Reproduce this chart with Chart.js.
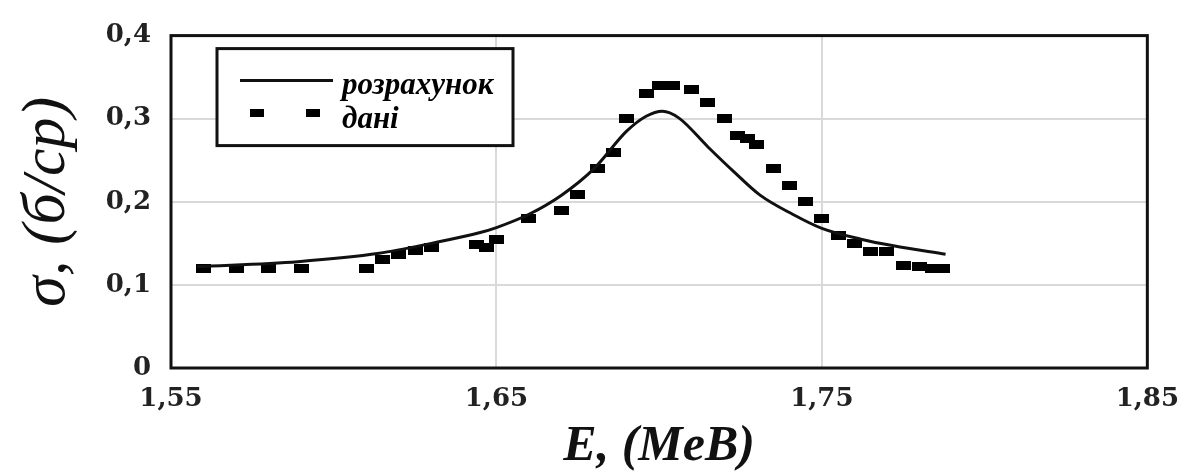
<!DOCTYPE html>
<html lang="uk">
<head>
<meta charset="UTF-8">
<title>σ(E)</title>
<script src="https://cdn.jsdelivr.net/npm/chart.js"></script>
<style>
  body { margin: 0; background: #fff; }
  #wrap { width: 1195px; height: 472px; }
</style>
</head>
<body>
<div id="wrap"><canvas id="chart"></canvas></div>
<script>
// розрахунок (calculated curve)
const calcE = [1.558, 1.589, 1.614, 1.630, 1.645, 1.650, 1.660, 1.670, 1.680, 1.690, 1.696, 1.701, 1.706, 1.715, 1.723, 1.731, 1.741, 1.750, 1.762, 1.772, 1.788];
const calcSigma = [0.122, 0.128, 0.138, 0.150, 0.163, 0.169, 0.185, 0.208, 0.240, 0.285, 0.303, 0.309, 0.301, 0.266, 0.236, 0.208, 0.185, 0.168, 0.155, 0.147, 0.137];

// дані (measured points)
const dataE = [1.560, 1.570, 1.580, 1.590, 1.610, 1.615, 1.620, 1.625, 1.630, 1.644, 1.647, 1.650, 1.660, 1.670, 1.675, 1.681, 1.686, 1.690, 1.696, 1.700, 1.704, 1.710, 1.715, 1.720, 1.724, 1.727, 1.730, 1.735, 1.740, 1.745, 1.750, 1.755, 1.760, 1.765, 1.770, 1.775, 1.780, 1.784, 1.787];
const dataSigma = [0.120, 0.120, 0.120, 0.120, 0.120, 0.131, 0.136, 0.141, 0.145, 0.149, 0.145, 0.155, 0.180, 0.190, 0.209, 0.240, 0.259, 0.300, 0.330, 0.340, 0.340, 0.335, 0.320, 0.300, 0.280, 0.276, 0.269, 0.240, 0.220, 0.200, 0.180, 0.160, 0.150, 0.140, 0.140, 0.123, 0.122, 0.120, 0.120];

const xTicks = [1.55, 1.65, 1.75, 1.85];
const yTicks = [0, 0.1, 0.2, 0.3, 0.4];
const legendLabels = ['розрахунок', 'дані'];

const SERIF = 'Liberation Serif, "Times New Roman", Times, serif';

// flat black rectangle used as the point marker
const marker = document.createElement('canvas');
marker.width = 15;
marker.height = 9;
const mctx = marker.getContext('2d');
mctx.fillStyle = '#000';
mctx.fillRect(0, 0, 15, 9);

const comma = (v, d) => v === 0 ? '0' : v.toFixed(d).replace('.', ',');

const framePlugin = {
    id: 'frame',
    afterDraw(chart) {
        const { ctx, chartArea: a } = chart;
        ctx.save();
        ctx.strokeStyle = '#111';
        ctx.lineWidth = 3;
        ctx.strokeRect(a.left, a.top, a.right - a.left, a.bottom - a.top);
        ctx.restore();
    }
};

// boxed legend inside the plot area
const boxLegend = {
    id: 'boxLegend',
    afterDraw(chart) {
        const { ctx, chartArea: a } = chart;
        const bx = a.left + 46, by = a.top + 13;
        ctx.save();
        ctx.fillStyle = '#fff';
        ctx.fillRect(bx, by, 296, 97);
        ctx.strokeStyle = '#111';
        ctx.lineWidth = 3;
        ctx.strokeRect(bx, by, 296, 97);

        ctx.beginPath();
        ctx.moveTo(bx + 23, by + 32);
        ctx.lineTo(bx + 116, by + 32);
        ctx.lineWidth = 3;
        ctx.stroke();
        ctx.drawImage(marker, bx + 33, by + 60, 14, 8);
        ctx.drawImage(marker, bx + 89, by + 60, 14, 8);

        ctx.fillStyle = '#000';
        ctx.font = 'italic bold 31px ' + SERIF;
        ctx.textBaseline = 'alphabetic';
        ctx.fillText(legendLabels[0], bx + 125, by + 45);
        ctx.fillText(legendLabels[1], bx + 125, by + 79);
        ctx.restore();
    }
};

new Chart(document.getElementById('chart'), {
    type: 'scatter',
    data: {
        datasets: [
            {
                label: legendLabels[0],
                type: 'line',
                data: calcE.map((e, i) => ({ x: e, y: calcSigma[i] })),
                borderColor: '#111',
                borderWidth: 3,
                pointRadius: 0,
                fill: false,
                cubicInterpolationMode: 'monotone'
            },
            {
                label: legendLabels[1],
                data: dataE.map((e, i) => ({ x: e, y: dataSigma[i] })),
                pointStyle: marker,
                pointRadius: 7,
                backgroundColor: '#000',
                borderColor: '#000'
            }
        ]
    },
    options: {
        responsive: true,
        maintainAspectRatio: false,
        animation: false,
        layout: { padding: { top: 20, right: 47, left: 0, bottom: 0 } },
        plugins: {
            legend: { display: false },
            tooltip: { enabled: false }
        },
        scales: {
            x: {
                type: 'linear',
                min: 1.55,
                max: 1.85,
                afterBuildTicks: s => { s.ticks = xTicks.map(v => ({ value: v })); },
                afterFit: s => { s.height = 104; },
                grid: { color: '#d9d9d9', lineWidth: 2, drawTicks: false },
                border: { display: false },
                ticks: {
                    padding: 16,
                    color: '#222',
                    font: { family: '"DejaVu Serif"', weight: 'bold', size: 26 },
                    callback: v => comma(v, 2)
                },
                title: {
                    display: true,
                    text: 'E, (MeB)',
                    color: '#111',
                    font: { family: SERIF, style: 'italic', weight: 'bold', size: 50, lineHeight: 1 },
                    padding: { top: 1, bottom: 0 }
                }
            },
            y: {
                min: 0,
                max: 0.4,
                afterBuildTicks: s => { s.ticks = yTicks.map(v => ({ value: v })); },
                afterFit: s => { s.width = 171; },
                grid: { color: '#d9d9d9', lineWidth: 2, drawTicks: false },
                border: { display: false },
                ticks: {
                    padding: 20,
                    color: '#222',
                    font: { family: '"DejaVu Serif"', weight: 'bold', size: 26 },
                    callback: v => comma(v, 1)
                },
                title: {
                    display: true,
                    text: 'σ, (б/ср)',
                    color: '#111',
                    font: { family: SERIF, style: 'italic', weight: 'normal', size: 62, lineHeight: 1 },
                    padding: { top: 17, bottom: 0 }
                }
            }
        }
    },
    plugins: [framePlugin, boxLegend]
});
</script>
</body>
</html>
